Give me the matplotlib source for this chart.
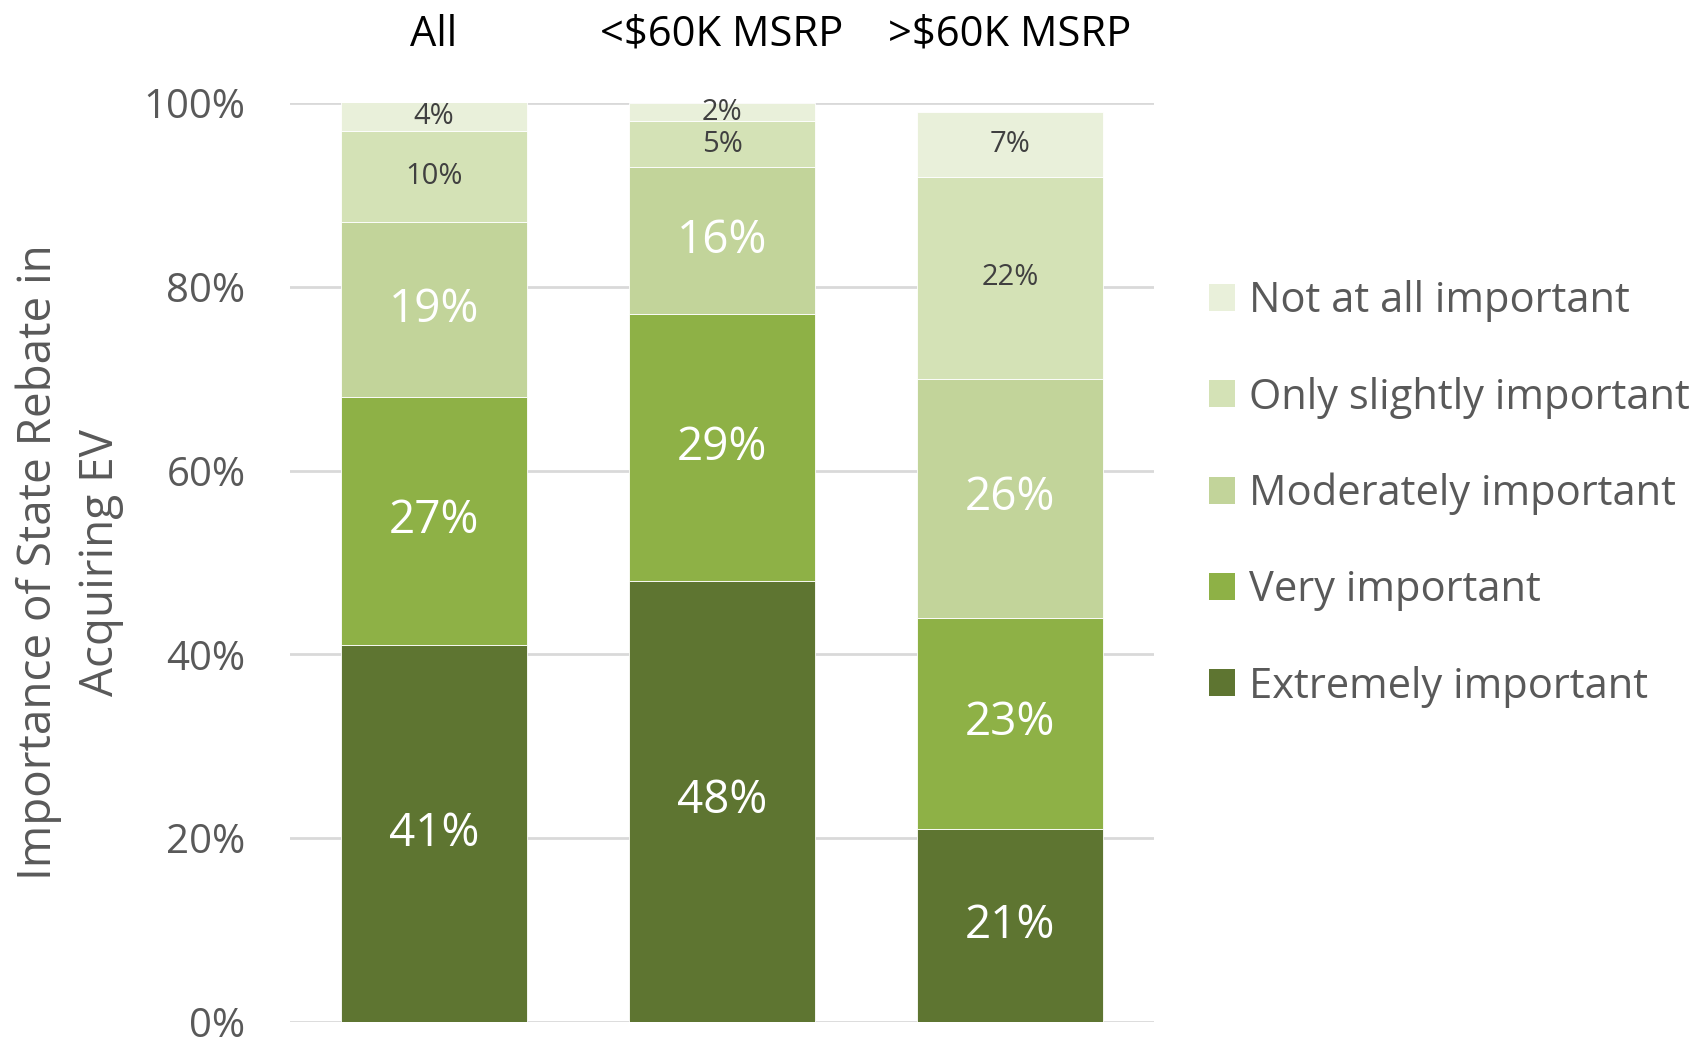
import numpy as np
import matplotlib
matplotlib.use('Agg')
import matplotlib.pyplot as plt
from matplotlib.patches import Patch

plt.rcParams['font.family'] = ['Open Sans', 'DejaVu Sans']

categories = ['All', '<$60K MSRP', '>$60K MSRP']
levels = ['Extremely important', 'Very important', 'Moderately important',
          'Only slightly important', 'Not at all important']

# share of respondents per level, in percent
extremely = [41, 48, 21]
very = [27, 29, 23]
moderately = [19, 16, 26]
slightly = [10, 5, 22]
not_at_all = [4, 2, 7]

colors = ['#5E7531', '#8EB146', '#C2D49A', '#D4E2B6', '#E9F0DA']

series = [extremely, very, moderately, slightly, not_at_all]

fig = plt.figure(figsize=(17.04, 10.38), dpi=100)
ax = fig.add_axes([290 / 1704, 1 - 1022 / 1038, 864 / 1704, 919 / 1038])

x = np.arange(len(categories))
bottom = np.zeros(len(categories))
for vals, col, name in zip(series, colors, levels):
    vals = np.array(vals, dtype=float) / 100
    ax.bar(x, vals, 0.646, bottom=bottom, color=col, edgecolor='white',
           linewidth=0.6, label=name, zorder=2)
    for i, (b, v) in enumerate(zip(bottom, vals)):
        top = min(b + v, 1.0)
        yc = (b + top) / 2
        pct = int(round(v * 100))
        small = pct < 12 or (name == 'Only slightly important' and i == 2)
        if small:
            ax.text(x[i], yc, f'{pct}%', ha='center', va='center',
                    fontsize=21, color='#404040', zorder=3)
        else:
            ax.text(x[i], yc, f'{pct}%', ha='center', va='center',
                    fontsize=33, color='white', zorder=3)
    bottom = bottom + vals

ax.set_xlim(-0.5, 2.5)
ax.set_ylim(0, 1)
ticks = np.arange(0, 1.01, 0.2)
ax.set_yticks(ticks)
ax.set_yticklabels([f'{int(round(t * 100))}%' for t in ticks])
ax.yaxis.grid(True, color='#D9D9D9', linewidth=2, zorder=0)
ax.set_axisbelow(True)
ax.tick_params(axis='y', length=0, pad=32, labelsize=29, labelcolor='#595959')

ax.xaxis.tick_top()
ax.set_xticks(x)
ax.set_xticklabels(categories)
ax.tick_params(axis='x', length=0, pad=34, labelsize=30, labelcolor='black')

for s in ax.spines.values():
    s.set_visible(False)

fig.text(70 / 1704, 1 - 562 / 1038, 'Importance of State Rebate in\nAcquiring EV',
         rotation=90, ha='center', va='center', fontsize=33, color='#595959',
         multialignment='center', linespacing=1.45)

handles = [Patch(facecolor=c, edgecolor='none') for c in colors][::-1]
fig.legend(handles, levels[::-1], loc='center left',
           bbox_to_anchor=(1188 / 1704, 1 - 494 / 1038), frameon=False,
           fontsize=30, labelcolor='#595959', handlelength=0.62, handleheight=0.62,
           handletextpad=0.34, labelspacing=1.3, borderpad=0)

fig.savefig('out.png', dpi=100)
